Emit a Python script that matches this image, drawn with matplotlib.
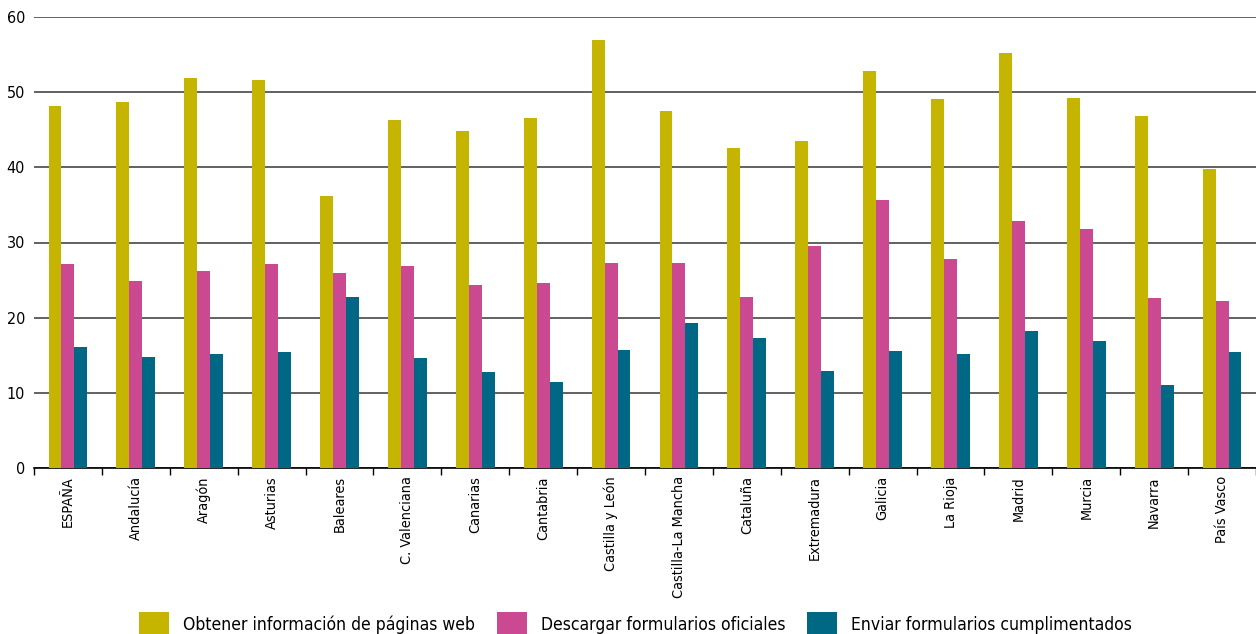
import matplotlib
matplotlib.use("Agg")
import matplotlib.pyplot as plt
import numpy as np
from matplotlib.patches import Patch

categories = ["ESPAÑA", "Andalucía", "Aragón", "Asturias", "Baleares", "C. Valenciana",
              "Canarias", "Cantabria", "Castilla y León", "Castilla-La Mancha", "Cataluña",
              "Extremadura", "Galicia", "La Rioja", "Madrid", "Murcia", "Navarra", "País Vasco"]
obtener = [48.1, 48.7, 51.9, 51.6, 36.2, 46.3, 44.9, 46.5, 57.0, 47.5, 42.6, 43.5,
           52.8, 49.1, 55.2, 49.2, 46.8, 39.8]
descargar = [27.1, 24.9, 26.2, 27.1, 25.9, 26.9, 24.3, 24.6, 27.3, 27.3, 22.8, 29.5,
             35.6, 27.8, 32.9, 31.8, 22.6, 22.2]
enviar = [16.1, 14.8, 15.2, 15.4, 22.8, 14.7, 12.8, 11.5, 15.7, 19.3, 17.3, 12.9,
          15.6, 15.1, 18.2, 16.9, 11.1, 15.4]
series_names = ["Obtener información de páginas web", "Descargar formularios oficiales",
                "Enviar formularios cumplimentados"]
colors = ["#C5B500", "#CB4990", "#006785"]
yticks = [0, 10, 20, 30, 40, 50, 60]

plt.rcParams['font.family'] = ['DejaVu Sans']
plt.rcParams['font.stretch'] = 'condensed'

fig = plt.figure(figsize=(12.56, 6.34), dpi=100)
ax = fig.add_axes([34/1256, 166/634, 1 - 34/1256, (468-17)/634])

x = np.arange(len(categories))
w = 0.19
for i, (vals, c) in enumerate(zip([obtener, descargar, enviar], colors)):
    ax.bar(x + (i - 1) * w, vals, width=w, color=c, zorder=3, linewidth=0)

ax.set_xlim(-0.5, len(categories) - 0.5)
ax.set_ylim(0, 60)
ax.set_yticks(yticks)
ax.set_yticklabels([str(t) for t in yticks], fontsize=11.5)
ax.tick_params(axis='y', length=0, pad=6.5)
ax.yaxis.grid(True, color='#555555', linewidth=1.3, zorder=0)
ax.set_axisbelow(True)

ax.set_xticks(x)
ax.set_xticklabels(categories, rotation=90, fontsize=10.4, va='top', ha='center')
ax.tick_params(axis='x', which='major', length=0, pad=6)
ax.set_xticks(np.arange(len(categories) + 1) - 0.5, minor=True)
ax.tick_params(axis='x', which='minor', length=5, width=1, color='black', direction='out')

for s in ['top', 'right', 'left']:
    ax.spines[s].set_visible(False)
ax.spines['bottom'].set_color('black')
ax.spines['bottom'].set_linewidth(1.2)

handles = [Patch(facecolor=c, edgecolor='none') for c in colors]
fig.legend(handles, series_names, loc='lower center', bbox_to_anchor=(0.506, -0.028),
           ncol=3, frameon=False, fontsize=12.6, handlelength=1.7, handleheight=1.7,
           handletextpad=0.8, columnspacing=1.25)

fig.savefig("out.png", dpi=100)
